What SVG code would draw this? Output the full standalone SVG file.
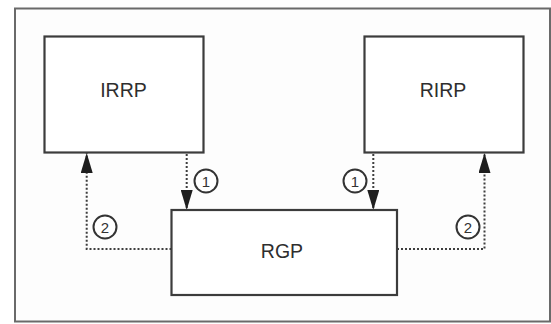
<svg xmlns="http://www.w3.org/2000/svg" width="551" height="324" viewBox="0 0 551 324">
  <style>
    .frame { fill: #fdfdfd; stroke: #6a6a6a; stroke-width: 2; }
    .box { fill: #ffffff; stroke: #3c3c3c; stroke-width: 2.2; }
    .label { font-family: "Liberation Sans", Arial, sans-serif; font-size: 19.5px; fill: #2e2e2e; text-anchor: middle; }
    .flow { fill: none; stroke: #3e3e3e; stroke-width: 2; stroke-dasharray: 2 2; }
    .step circle { fill: #ffffff; stroke: #333333; stroke-width: 2; }
    .step text { font-family: "Liberation Sans", Arial, sans-serif; font-size: 15px; fill: #333333; text-anchor: middle; }
  </style>
  <defs>
    <marker id="arrow" markerWidth="20" markerHeight="12" refX="20" refY="6" viewBox="0 0 20 12" orient="auto" markerUnits="userSpaceOnUse">
      <path d="M0,0 L20,6 L0,12 Z" fill="#1e1e1e"/>
    </marker>
  </defs>

  <rect width="551" height="324" fill="#ffffff"/>
  <rect class="frame" x="15" y="8.5" width="535" height="313"/>

  <g id="connectors">
    <!-- step 1: requests down to RGP -->
    <path class="flow" d="M186.7,154 V210" marker-end="url(#arrow)"/>
    <path class="flow" d="M373.3,154 V210" marker-end="url(#arrow)"/>
    <!-- step 2: replies back up -->
    <path class="flow" d="M171.5,249 H86.7 V153" marker-end="url(#arrow)"/>
    <path class="flow" d="M397,249 H484.5 V153" marker-end="url(#arrow)"/>
    <g class="step">
      <circle cx="206" cy="181" r="11.5"/>
      <text x="206" y="186.5">1</text>
      <circle cx="355" cy="181" r="11.5"/>
      <text x="355" y="186.5">1</text>
      <circle cx="105" cy="227" r="11.5"/>
      <text x="105" y="232.5">2</text>
      <circle cx="468" cy="227" r="11.5"/>
      <text x="468" y="232.5">2</text>
    </g>
  </g>

  <g id="irrp">
    <rect class="box" x="44.5" y="36.5" width="159" height="116"/>
    <text class="label" x="123.5" y="97">IRRP</text>
  </g>
  <g id="rirp">
    <rect class="box" x="364.5" y="36.5" width="159" height="116"/>
    <text class="label" x="443" y="97">RIRP</text>
  </g>
  <g id="rgp">
    <rect class="box" x="171.5" y="210" width="225.5" height="85"/>
    <text class="label" x="282" y="258">RGP</text>
  </g>
</svg>
